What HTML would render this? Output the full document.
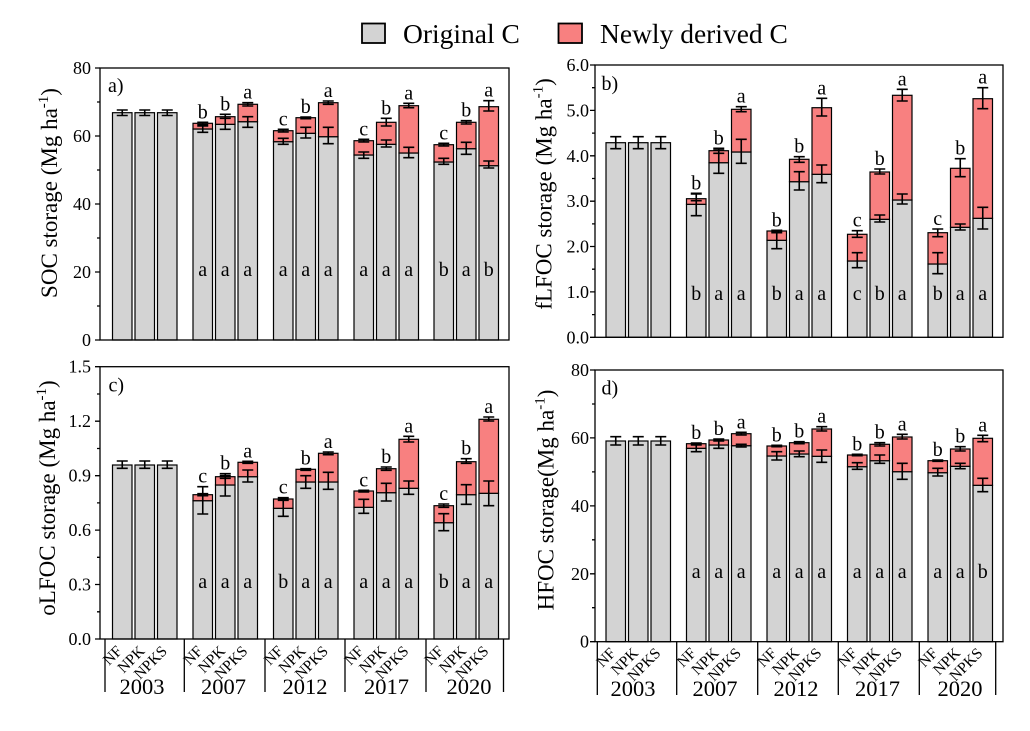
<!DOCTYPE html>
<html><head><meta charset="utf-8"><style>
html,body{margin:0;padding:0;background:#fff}
svg{display:block}
text{font-family:"Liberation Serif","Times New Roman",serif;fill:#000}
.g{fill:#d3d3d3;stroke:#000;stroke-width:1.2}
.r{fill:#f88080;stroke:#000;stroke-width:1.2}
.e{fill:none;stroke:#000;stroke-width:1.6}
.ax{fill:none;stroke:#000;stroke-width:1.3}
.tk{font-size:18px;text-anchor:end}
.lt{font-size:20px;text-anchor:middle}
.tt{font-size:23px;text-anchor:middle}
.cat{font-size:15.5px;text-anchor:end}
.yr{font-size:22.5px;text-anchor:middle}
</style></head><body>
<svg width="1030" height="731" viewBox="0 0 1030 731" xmlns="http://www.w3.org/2000/svg">
<rect width="1030" height="731" fill="#fff"/>
<!-- Legend -->
<rect x="362" y="23.5" width="23" height="19.5" fill="#d3d3d3" stroke="#000" stroke-width="1.8"/>
<text x="403" y="43" font-size="27.5">Original C</text>
<rect x="558.5" y="23.5" width="23.5" height="19.5" fill="#f88080" stroke="#000" stroke-width="1.8"/>
<text x="600" y="43" font-size="27.5">Newly derived C</text>

<!-- ============ Panel a ============ -->
<g>
<rect class="g" x="112.5" y="112.7" width="19.5" height="227.3"/>
<rect class="g" x="135" y="112.7" width="19.5" height="227.3"/>
<rect class="g" x="157.5" y="112.7" width="19.5" height="227.3"/>
<rect class="g" x="193" y="129" width="19.5" height="211"/><rect class="r" x="193" y="123.3" width="19.5" height="5.7"/>
<rect class="g" x="215.5" y="124.3" width="19.5" height="215.7"/><rect class="r" x="215.5" y="116.7" width="19.5" height="7.6"/>
<rect class="g" x="238" y="121.7" width="19.5" height="218.3"/><rect class="r" x="238" y="104.3" width="19.5" height="17.4"/>
<rect class="g" x="273.5" y="141.7" width="19.5" height="198.3"/><rect class="r" x="273.5" y="130.7" width="19.5" height="11"/>
<rect class="g" x="296" y="133.3" width="19.5" height="206.7"/><rect class="r" x="296" y="117.7" width="19.5" height="15.6"/>
<rect class="g" x="318.5" y="136.7" width="19.5" height="203.3"/><rect class="r" x="318.5" y="102.7" width="19.5" height="34"/>
<rect class="g" x="354" y="155" width="19.5" height="185"/><rect class="r" x="354" y="140.7" width="19.5" height="14.3"/>
<rect class="g" x="376.5" y="144.3" width="19.5" height="195.7"/><rect class="r" x="376.5" y="122.3" width="19.5" height="22"/>
<rect class="g" x="399" y="153" width="19.5" height="187"/><rect class="r" x="399" y="105.7" width="19.5" height="47.3"/>
<rect class="g" x="434" y="162" width="19.5" height="178"/><rect class="r" x="434" y="144.7" width="19.5" height="17.3"/>
<rect class="g" x="456.5" y="148.7" width="19.5" height="191.3"/><rect class="r" x="456.5" y="122.3" width="19.5" height="26.4"/>
<rect class="g" x="479" y="165.7" width="19.5" height="174.3"/><rect class="r" x="479" y="106.7" width="19.5" height="59"/>
<rect class="ax" x="100" y="68" width="409" height="272"/>
<path class="ax" d="M95,340H100M95,272H100M95,204H100M95,136H100M95,68H100M97,306H100M97,238H100M97,170H100M97,102H100"/>
<text class="tk" x="91" y="346">0</text><text class="tk" x="91" y="278">20</text><text class="tk" x="91" y="210">40</text><text class="tk" x="91" y="142">60</text><text class="tk" x="91" y="74">80</text>
<path class="e" d="M116.75,110H127.75M122.25,110V115.5M116.75,115.5H127.75
M139.25,110H150.25M144.75,110V115.5M139.25,115.5H150.25
M161.75,110H172.75M167.25,110V115.5M161.75,115.5H172.75
M197.25,126H208.25M202.75,126V132.3M197.25,132.3H208.25M197.25,122.3H208.25M202.75,122.3V124.7M197.25,124.7H208.25
M219.75,118.3H230.75M225.25,118.3V129.3M219.75,129.3H230.75M219.75,114.3H230.75M225.25,114.3V118.3M219.75,118.3H230.75
M242.25,116.7H253.25M247.75,116.7V127.3M242.25,127.3H253.25M242.25,102.7H253.25M247.75,102.7V106M242.25,106H253.25
M277.75,138.3H288.75M283.25,138.3V144.3M277.75,144.3H288.75M277.75,129.3H288.75M283.25,129.3V132M277.75,132H288.75
M300.25,127.3H311.25M305.75,127.3V138M300.25,138H311.25M300.25,117H311.25M305.75,117V118.7M300.25,118.7H311.25
M322.75,127.3H333.75M328.25,127.3V143.7M322.75,143.7H333.75M322.75,101H333.75M328.25,101V104.3M322.75,104.3H333.75
M358.25,152H369.25M363.75,152V158.3M358.25,158.3H369.25M358.25,139.3H369.25M363.75,139.3V142M358.25,142H369.25
M380.75,140H391.75M386.25,140V147M380.75,147H391.75M380.75,118.3H391.75M386.25,118.3V126M380.75,126H391.75
M403.25,147.3H414.25M408.75,147.3V157.7M403.25,157.7H414.25M403.25,103.3H414.25M408.75,103.3V107.7M403.25,107.7H414.25
M438.25,158.3H449.25M443.75,158.3V164.3M438.25,164.3H449.25M438.25,143.3H449.25M443.75,143.3V146M438.25,146H449.25
M460.75,142.3H471.75M466.25,142.3V154.3M460.75,154.3H471.75M460.75,120.7H471.75M466.25,120.7V124M460.75,124H471.75
M483.25,161H494.25M488.75,161V168M483.25,168H494.25M483.25,100.7H494.25M488.75,100.7V111M483.25,111H494.25"/>
<text class="lt" x="202.75" y="118.3">b</text><text class="lt" x="225.25" y="110.3">b</text><text class="lt" x="247.75" y="98.7">a</text>
<text class="lt" x="283.25" y="125.3">c</text><text class="lt" x="305.75" y="113">b</text><text class="lt" x="328.25" y="97">a</text>
<text class="lt" x="363.75" y="135.3">c</text><text class="lt" x="386.25" y="114.3">b</text><text class="lt" x="408.75" y="99.3">a</text>
<text class="lt" x="443.75" y="139.3">c</text><text class="lt" x="466.25" y="116.7">b</text><text class="lt" x="488.75" y="96.7">a</text>
<text class="lt" x="202.75" y="276">a</text><text class="lt" x="225.25" y="276">a</text><text class="lt" x="247.75" y="276">a</text>
<text class="lt" x="283.25" y="276">a</text><text class="lt" x="305.75" y="276">a</text><text class="lt" x="328.25" y="276">a</text>
<text class="lt" x="363.75" y="276">a</text><text class="lt" x="386.25" y="276">a</text><text class="lt" x="408.75" y="276">a</text>
<text class="lt" x="443.75" y="276">b</text><text class="lt" x="466.25" y="276">a</text><text class="lt" x="488.75" y="276">b</text>
<text x="108" y="92" font-size="20">a)</text>
<text class="tt" transform="translate(57,193) rotate(-90)">SOC storage (Mg ha<tspan font-size="15" dy="-9">-1</tspan><tspan dy="9">)</tspan></text>
</g>

<!-- ============ Panel b ============ -->
<g>
<rect class="g" x="606" y="142.7" width="19.5" height="194.6"/>
<rect class="g" x="628.5" y="142.7" width="19.5" height="194.6"/>
<rect class="g" x="651" y="142.7" width="19.5" height="194.6"/>
<rect class="g" x="686.5" y="204.3" width="19.5" height="133"/><rect class="r" x="686.5" y="198.7" width="19.5" height="5.6"/>
<rect class="g" x="709" y="162.7" width="19.5" height="174.6"/><rect class="r" x="709" y="150.7" width="19.5" height="12"/>
<rect class="g" x="731.5" y="152" width="19.5" height="185.3"/><rect class="r" x="731.5" y="109.3" width="19.5" height="42.7"/>
<rect class="g" x="767" y="240.3" width="19.5" height="97"/><rect class="r" x="767" y="231" width="19.5" height="9.3"/>
<rect class="g" x="789.5" y="181.7" width="19.5" height="155.6"/><rect class="r" x="789.5" y="159.3" width="19.5" height="22.4"/>
<rect class="g" x="812" y="174.3" width="19.5" height="163"/><rect class="r" x="812" y="107.7" width="19.5" height="66.6"/>
<rect class="g" x="847.5" y="261" width="19.5" height="76.3"/><rect class="r" x="847.5" y="234.3" width="19.5" height="26.7"/>
<rect class="g" x="870" y="219.3" width="19.5" height="118"/><rect class="r" x="870" y="172" width="19.5" height="47.3"/>
<rect class="g" x="892.5" y="200" width="19.5" height="137.3"/><rect class="r" x="892.5" y="95.3" width="19.5" height="104.7"/>
<rect class="g" x="928" y="264" width="19.5" height="73.3"/><rect class="r" x="928" y="232.7" width="19.5" height="31.3"/>
<rect class="g" x="950.5" y="227.3" width="19.5" height="110"/><rect class="r" x="950.5" y="168.3" width="19.5" height="59"/>
<rect class="g" x="973" y="218.3" width="19.5" height="119"/><rect class="r" x="973" y="98.7" width="19.5" height="119.6"/>
<rect class="ax" x="595" y="65" width="408" height="272.3"/>
<path class="ax" d="M590,337.3H595M590,291.9H595M590,246.5H595M590,201.2H595M590,155.8H595M590,110.4H595M590,65H595M592,314.6H595M592,269.2H595M592,223.9H595M592,178.5H595M592,133.1H595M592,87.7H595"/>
<text class="tk" x="589" y="343.3">0.0</text><text class="tk" x="589" y="297.9">1.0</text><text class="tk" x="589" y="252.5">2.0</text><text class="tk" x="589" y="207.2">3.0</text><text class="tk" x="589" y="161.8">4.0</text><text class="tk" x="589" y="116.4">5.0</text><text class="tk" x="589" y="71">6.0</text>
<path class="e" d="M610.25,136.7H621.25M615.75,136.7V148.7M610.25,148.7H621.25
M632.75,136.7H643.75M638.25,136.7V148.7M632.75,148.7H643.75
M655.25,136.7H666.25M660.75,136.7V148.7M655.25,148.7H666.25
M690.75,193.3H701.75M696.25,193.3V215.7M690.75,215.7H701.75M690.75,194H701.75M696.25,194V200.7M690.75,200.7H701.75
M713.25,150H724.25M718.75,150V173.3M713.25,173.3H724.25M713.25,148.3H724.25M718.75,148.3V153.3M713.25,153.3H724.25
M735.75,139.3H746.75M741.25,139.3V163.3M735.75,163.3H746.75M735.75,106.7H746.75M741.25,106.7V111.7M735.75,111.7H746.75
M771.25,232.7H782.25M776.75,232.7V248.7M771.25,248.7H782.25M771.25,230.3H782.25M776.75,230.3V231.7M771.25,231.7H782.25
M793.75,171.7H804.75M799.25,171.7V190M793.75,190H804.75M793.75,156.7H804.75M799.25,156.7V162.3M793.75,162.3H804.75
M816.25,165H827.25M821.75,165V182.7M816.25,182.7H827.25M816.25,98.3H827.25M821.75,98.3V116M816.25,116H827.25
M851.75,252.7H862.75M857.25,252.7V267.7M851.75,267.7H862.75M851.75,230.7H862.75M857.25,230.7V237.3M851.75,237.3H862.75
M874.25,215H885.25M879.75,215V222M874.25,222H885.25M874.25,169H885.25M879.75,169V174M874.25,174H885.25
M896.75,194H907.75M902.25,194V204M896.75,204H907.75M896.75,89.3H907.75M902.25,89.3V101M896.75,101H907.75
M932.25,252.7H943.25M937.75,252.7V273.7M932.25,273.7H943.25M932.25,229H943.25M937.75,229V236.7M932.25,236.7H943.25
M954.75,224H965.75M960.25,224V230M954.75,230H965.75M954.75,158.7H965.75M960.25,158.7V176.7M954.75,176.7H965.75
M977.25,207.3H988.25M982.75,207.3V229M977.25,229H988.25M977.25,87.7H988.25M982.75,87.7V108.7M977.25,108.7H988.25"/>
<text class="lt" x="696.25" y="189.3">b</text><text class="lt" x="718.75" y="144.3">b</text><text class="lt" x="741.25" y="102.7">a</text>
<text class="lt" x="776.75" y="226.3">b</text><text class="lt" x="799.25" y="152.7">b</text><text class="lt" x="821.75" y="94.3">a</text>
<text class="lt" x="857.25" y="226.7">c</text><text class="lt" x="879.75" y="165">b</text><text class="lt" x="902.25" y="85.3">a</text>
<text class="lt" x="937.75" y="225">c</text><text class="lt" x="960.25" y="154.7">b</text><text class="lt" x="982.75" y="83.7">a</text>
<text class="lt" x="696.25" y="300">b</text><text class="lt" x="718.75" y="300">a</text><text class="lt" x="741.25" y="300">a</text>
<text class="lt" x="776.75" y="300">b</text><text class="lt" x="799.25" y="300">a</text><text class="lt" x="821.75" y="300">a</text>
<text class="lt" x="857.25" y="300">c</text><text class="lt" x="879.75" y="300">b</text><text class="lt" x="902.25" y="300">a</text>
<text class="lt" x="937.75" y="300">b</text><text class="lt" x="960.25" y="300">a</text><text class="lt" x="982.75" y="300">a</text>
<text x="601.5" y="90" font-size="20">b)</text>
<text class="tt" transform="translate(551.7,194) rotate(-90)">fLFOC storage (Mg ha<tspan font-size="15" dy="-9">-1</tspan><tspan dy="9">)</tspan></text>
</g>

<!-- ============ Panel c ============ -->
<g>
<rect class="g" x="112.5" y="465" width="19.5" height="174"/>
<rect class="g" x="135" y="465" width="19.5" height="174"/>
<rect class="g" x="157.5" y="465" width="19.5" height="174"/>
<rect class="g" x="193" y="500.7" width="19.5" height="138.3"/><rect class="r" x="193" y="494.7" width="19.5" height="6"/>
<rect class="g" x="215.5" y="485" width="19.5" height="154"/><rect class="r" x="215.5" y="476.7" width="19.5" height="8.3"/>
<rect class="g" x="238" y="476.7" width="19.5" height="162.3"/><rect class="r" x="238" y="462.3" width="19.5" height="14.4"/>
<rect class="g" x="273.5" y="508.3" width="19.5" height="130.7"/><rect class="r" x="273.5" y="499" width="19.5" height="9.3"/>
<rect class="g" x="296" y="482" width="19.5" height="157"/><rect class="r" x="296" y="469.3" width="19.5" height="12.7"/>
<rect class="g" x="318.5" y="482" width="19.5" height="157"/><rect class="r" x="318.5" y="453.3" width="19.5" height="28.7"/>
<rect class="g" x="354" y="507.3" width="19.5" height="131.7"/><rect class="r" x="354" y="491" width="19.5" height="16.3"/>
<rect class="g" x="376.5" y="492.7" width="19.5" height="146.3"/><rect class="r" x="376.5" y="468.7" width="19.5" height="24"/>
<rect class="g" x="399" y="488.3" width="19.5" height="150.7"/><rect class="r" x="399" y="439.3" width="19.5" height="49"/>
<rect class="g" x="434" y="522.7" width="19.5" height="116.3"/><rect class="r" x="434" y="505.7" width="19.5" height="17"/>
<rect class="g" x="456.5" y="494.7" width="19.5" height="144.3"/><rect class="r" x="456.5" y="461.7" width="19.5" height="33"/>
<rect class="g" x="479" y="493.3" width="19.5" height="145.7"/><rect class="r" x="479" y="419.3" width="19.5" height="74"/>
<rect class="ax" x="100" y="366.7" width="409" height="272.3"/>
<path class="ax" d="M95,639H100M95,584.5H100M95,530.1H100M95,475.7H100M95,421.2H100M95,366.7H100M97,611.8H100M97,557.3H100M97,502.9H100M97,448.5H100M97,394H100"/>
<text class="tk" x="91" y="645">0.0</text><text class="tk" x="91" y="590.5">0.3</text><text class="tk" x="91" y="536.1">0.6</text><text class="tk" x="91" y="481.7">0.9</text><text class="tk" x="91" y="427.2">1.2</text><text class="tk" x="91" y="372.7">1.5</text>
<path class="ax" d="M105,639V692M184.3,639V692M265,639V692M345,639V692M426,639V692M503.5,639V692"/>
<path class="e" d="M116.75,461H127.75M122.25,461V468.3M116.75,468.3H127.75
M139.25,461H150.25M144.75,461V468.3M139.25,468.3H150.25
M161.75,461H172.75M167.25,461V468.3M161.75,468.3H172.75
M197.25,486.7H208.25M202.75,486.7V514M197.25,514H208.25M197.25,493.7H208.25M202.75,493.7V495.7M197.25,495.7H208.25
M219.75,475.7H230.75M225.25,475.7V496M219.75,496H230.75M219.75,473.7H230.75M225.25,473.7V478.3M219.75,478.3H230.75
M242.25,470H253.25M247.75,470V482M242.25,482H253.25M242.25,461.3H253.25M247.75,461.3V463.3M242.25,463.3H253.25
M277.75,499H288.75M283.25,499V516.3M277.75,516.3H288.75M277.75,497.7H288.75M283.25,497.7V500.3M277.75,500.3H288.75
M300.25,475.7H311.25M305.75,475.7V488.3M300.25,488.3H311.25M300.25,468.7H311.25M305.75,468.7V470.3M300.25,470.3H311.25
M322.75,472.3H333.75M328.25,472.3V489.3M322.75,489.3H333.75M322.75,452H333.75M328.25,452V454.7M322.75,454.7H333.75
M358.25,499.3H369.25M363.75,499.3V513.3M358.25,513.3H369.25M358.25,490.3H369.25M363.75,490.3V492M358.25,492H369.25
M380.75,483.3H391.75M386.25,483.3V501M380.75,501H391.75M380.75,467H391.75M386.25,467V470.3M380.75,470.3H391.75
M403.25,481H414.25M408.75,481V494.3M403.25,494.3H414.25M403.25,436.3H414.25M408.75,436.3V442M403.25,442H414.25
M438.25,513.7H449.25M443.75,513.7V530.7M438.25,530.7H449.25M438.25,504H449.25M443.75,504V507.3M438.25,507.3H449.25
M460.75,484.7H471.75M466.25,484.7V504.3M460.75,504.3H471.75M460.75,458.7H471.75M466.25,458.7V463.3M460.75,463.3H471.75
M483.25,481H494.25M488.75,481V505.7M483.25,505.7H494.25M483.25,417H494.25M488.75,417V421M483.25,421H494.25"/>
<text class="lt" x="202.75" y="482.7">c</text><text class="lt" x="225.25" y="469.7">b</text><text class="lt" x="247.75" y="457.3">a</text>
<text class="lt" x="283.25" y="493.7">c</text><text class="lt" x="305.75" y="464.7">b</text><text class="lt" x="328.25" y="448">a</text>
<text class="lt" x="363.75" y="486.3">c</text><text class="lt" x="386.25" y="463">b</text><text class="lt" x="408.75" y="432.3">a</text>
<text class="lt" x="443.75" y="500">c</text><text class="lt" x="466.25" y="454.7">b</text><text class="lt" x="488.75" y="413">a</text>
<text class="lt" x="202.75" y="588">a</text><text class="lt" x="225.25" y="588">a</text><text class="lt" x="247.75" y="588">a</text>
<text class="lt" x="283.25" y="588">b</text><text class="lt" x="305.75" y="588">a</text><text class="lt" x="328.25" y="588">a</text>
<text class="lt" x="363.75" y="588">a</text><text class="lt" x="386.25" y="588">a</text><text class="lt" x="408.75" y="588">a</text>
<text class="lt" x="443.75" y="588">b</text><text class="lt" x="466.25" y="588">a</text><text class="lt" x="488.75" y="588">a</text>
<text x="108.5" y="391.5" font-size="20">c)</text>
<text class="tt" transform="translate(55,498) rotate(-90)">oLFOC storage (Mg ha<tspan font-size="15" dy="-9">-1</tspan><tspan dy="9">)</tspan></text>
<!-- categories -->
<g class="cat">
<text transform="translate(123,652) rotate(-45)">NF</text><text transform="translate(145.5,652) rotate(-45)">NPK</text><text transform="translate(168,652) rotate(-45)">NPKS</text>
<text transform="translate(203.5,652) rotate(-45)">NF</text><text transform="translate(226,652) rotate(-45)">NPK</text><text transform="translate(248.5,652) rotate(-45)">NPKS</text>
<text transform="translate(284,652) rotate(-45)">NF</text><text transform="translate(306.5,652) rotate(-45)">NPK</text><text transform="translate(329,652) rotate(-45)">NPKS</text>
<text transform="translate(364.5,652) rotate(-45)">NF</text><text transform="translate(387,652) rotate(-45)">NPK</text><text transform="translate(409.5,652) rotate(-45)">NPKS</text>
<text transform="translate(444.5,652) rotate(-45)">NF</text><text transform="translate(467,652) rotate(-45)">NPK</text><text transform="translate(489.5,652) rotate(-45)">NPKS</text>
</g>
<text class="yr" x="142" y="694">2003</text><text class="yr" x="223.5" y="694">2007</text><text class="yr" x="305" y="694">2012</text><text class="yr" x="386.5" y="694">2017</text><text class="yr" x="469" y="694">2020</text>
</g>

<!-- ============ Panel d ============ -->
<g>
<rect class="g" x="606" y="441" width="19.5" height="200.7"/>
<rect class="g" x="628.5" y="441" width="19.5" height="200.7"/>
<rect class="g" x="651" y="441" width="19.5" height="200.7"/>
<rect class="g" x="686.5" y="448.3" width="19.5" height="193.4"/><rect class="r" x="686.5" y="443.7" width="19.5" height="4.6"/>
<rect class="g" x="709" y="445" width="19.5" height="196.7"/><rect class="r" x="709" y="440" width="19.5" height="5"/>
<rect class="g" x="731.5" y="445.7" width="19.5" height="196"/><rect class="r" x="731.5" y="433.7" width="19.5" height="12"/>
<rect class="g" x="767" y="456" width="19.5" height="185.7"/><rect class="r" x="767" y="446" width="19.5" height="10"/>
<rect class="g" x="789.5" y="454" width="19.5" height="187.7"/><rect class="r" x="789.5" y="442.7" width="19.5" height="11.3"/>
<rect class="g" x="812" y="456.3" width="19.5" height="185.4"/><rect class="r" x="812" y="429" width="19.5" height="27.3"/>
<rect class="g" x="847.5" y="466.7" width="19.5" height="175"/><rect class="r" x="847.5" y="455" width="19.5" height="11.7"/>
<rect class="g" x="870" y="460.7" width="19.5" height="181"/><rect class="r" x="870" y="444.3" width="19.5" height="16.4"/>
<rect class="g" x="892.5" y="471.7" width="19.5" height="170"/><rect class="r" x="892.5" y="437" width="19.5" height="34.7"/>
<rect class="g" x="928" y="472.7" width="19.5" height="169"/><rect class="r" x="928" y="460.7" width="19.5" height="12"/>
<rect class="g" x="950.5" y="466.3" width="19.5" height="175.4"/><rect class="r" x="950.5" y="449" width="19.5" height="17.3"/>
<rect class="g" x="973" y="485.3" width="19.5" height="156.4"/><rect class="r" x="973" y="438.3" width="19.5" height="47"/>
<rect class="ax" x="595" y="370" width="408" height="271.7"/>
<path class="ax" d="M590,641.7H595M590,573.8H595M590,505.9H595M590,437.9H595M590,370H595M592,607.7H595M592,539.8H595M592,471.9H595M592,404H595"/>
<text class="tk" x="589" y="647.7">0</text><text class="tk" x="589" y="579.8">20</text><text class="tk" x="589" y="511.9">40</text><text class="tk" x="589" y="443.9">60</text><text class="tk" x="589" y="376">80</text>
<path class="ax" d="M597.3,641.7V695M676.7,641.7V695M757.7,641.7V695M838.3,641.7V695M919.3,641.7V695M995.7,641.7V695"/>
<path class="e" d="M610.25,436.7H621.25M615.75,436.7V445M610.25,445H621.25
M632.75,436.7H643.75M638.25,436.7V445M632.75,445H643.75
M655.25,436.7H666.25M660.75,436.7V445M655.25,445H666.25
M690.75,444.3H701.75M696.25,444.3V451.7M690.75,451.7H701.75M690.75,443H701.75M696.25,443V445M690.75,445H701.75
M713.25,440.7H724.25M718.75,440.7V448.3M713.25,448.3H724.25M713.25,439H724.25M718.75,439V441M713.25,441H724.25
M735.75,444.3H746.75M741.25,444.3V447M735.75,447H746.75M735.75,432.3H746.75M741.25,432.3V435M735.75,435H746.75
M771.25,451.7H782.25M776.75,451.7V460M771.25,460H782.25M771.25,445.3H782.25M776.75,445.3V446.7M771.25,446.7H782.25
M793.75,451H804.75M799.25,451V456.7M793.75,456.7H804.75M793.75,441.7H804.75M799.25,441.7V443.7M793.75,443.7H804.75
M816.25,450H827.25M821.75,450V462.3M816.25,462.3H827.25M816.25,426.7H827.25M821.75,426.7V431M816.25,431H827.25
M851.75,462.7H862.75M857.25,462.7V469.3M851.75,469.3H862.75M851.75,454.3H862.75M857.25,454.3V455.7M851.75,455.7H862.75
M874.25,455H885.25M879.75,455V463.3M874.25,463.3H885.25M874.25,442.7H885.25M879.75,442.7V446M874.25,446H885.25
M896.75,463.3H907.75M902.25,463.3V479.3M896.75,479.3H907.75M896.75,434.3H907.75M902.25,434.3V439M896.75,439H907.75
M932.25,468.3H943.25M937.75,468.3V476M932.25,476H943.25M932.25,460H943.25M937.75,460V461.3M932.25,461.3H943.25
M954.75,463.3H965.75M960.25,463.3V468.7M954.75,468.7H965.75M954.75,446.7H965.75M960.25,446.7V451M954.75,451H965.75
M977.25,478.3H988.25M982.75,478.3V491.7M977.25,491.7H988.25M977.25,435.3H988.25M982.75,435.3V441.7M977.25,441.7H988.25"/>
<text class="lt" x="696.25" y="439">b</text><text class="lt" x="718.75" y="435">b</text><text class="lt" x="741.25" y="428.5">a</text>
<text class="lt" x="776.75" y="441.3">b</text><text class="lt" x="799.25" y="437.7">b</text><text class="lt" x="821.75" y="422.7">a</text>
<text class="lt" x="857.25" y="450.3">b</text><text class="lt" x="879.75" y="438.7">b</text><text class="lt" x="902.25" y="430.3">a</text>
<text class="lt" x="937.75" y="456">b</text><text class="lt" x="960.25" y="442.7">b</text><text class="lt" x="982.75" y="431.3">a</text>
<text class="lt" x="696.25" y="578">a</text><text class="lt" x="718.75" y="578">a</text><text class="lt" x="741.25" y="578">a</text>
<text class="lt" x="776.75" y="578">a</text><text class="lt" x="799.25" y="578">a</text><text class="lt" x="821.75" y="578">a</text>
<text class="lt" x="857.25" y="578">a</text><text class="lt" x="879.75" y="578">a</text><text class="lt" x="902.25" y="578">a</text>
<text class="lt" x="937.75" y="578">a</text><text class="lt" x="960.25" y="578">a</text><text class="lt" x="982.75" y="578">b</text>
<text x="601.5" y="394.5" font-size="20">d)</text>
<text class="tt" transform="translate(553.3,500) rotate(-90)">HFOC storage(Mg ha<tspan font-size="15" dy="-9">-1</tspan><tspan dy="9">)</tspan></text>
<g class="cat">
<text transform="translate(616.5,654) rotate(-45)">NF</text><text transform="translate(639,654) rotate(-45)">NPK</text><text transform="translate(661.5,654) rotate(-45)">NPKS</text>
<text transform="translate(697,654) rotate(-45)">NF</text><text transform="translate(719.5,654) rotate(-45)">NPK</text><text transform="translate(742,654) rotate(-45)">NPKS</text>
<text transform="translate(777.5,654) rotate(-45)">NF</text><text transform="translate(800,654) rotate(-45)">NPK</text><text transform="translate(822.5,654) rotate(-45)">NPKS</text>
<text transform="translate(858,654) rotate(-45)">NF</text><text transform="translate(880.5,654) rotate(-45)">NPK</text><text transform="translate(903,654) rotate(-45)">NPKS</text>
<text transform="translate(938.5,654) rotate(-45)">NF</text><text transform="translate(961,654) rotate(-45)">NPK</text><text transform="translate(983.5,654) rotate(-45)">NPKS</text>
</g>
<text class="yr" x="633" y="696">2003</text><text class="yr" x="715" y="696">2007</text><text class="yr" x="796" y="696">2012</text><text class="yr" x="877.5" y="696">2017</text><text class="yr" x="960" y="696">2020</text>
</g>
</svg>
</body></html>
